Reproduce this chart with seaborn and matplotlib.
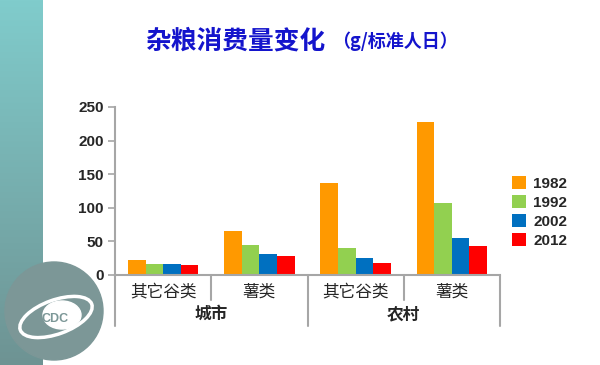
import numpy as np
import pandas as pd
import seaborn as sns
import matplotlib.pyplot as plt
from matplotlib.patches import Circle, Ellipse
import matplotlib.transforms as mtransforms

# data (g per standard person per day)
regions = ['城市', '城市', '农村', '农村']
foods = ['其它谷类', '薯类', '其它谷类', '薯类']
years = ['1982', '1992', '2002', '2012']
v1982 = [23, 65.5, 136.5, 228]
v1992 = [16.5, 45, 40, 107]
v2002 = [16.5, 31, 25.5, 55.5]
v2012 = [15, 28, 17.5, 43]
colors = ['#FF9900', '#92D050', '#0070C0', '#FF0000']

# long format table for seaborn
keys = [r + '|' + f for r, f in zip(regions, foods)]
rows = []
for yr, vals in zip(years, [v1982, v1992, v2002, v2012]):
    for k, v in zip(keys, vals):
        rows.append({'key': k, 'year': yr, 'value': v})
df = pd.DataFrame(rows)

sns.set_style('white')
plt.rcParams['font.family'] = ['Noto Sans CJK SC', 'DejaVu Sans']

fig = plt.figure(figsize=(6, 3.65), dpi=100)

# teal band on the left side of the slide
band = fig.add_axes([0, 0, 43 / 600, 1])
grad = np.linspace(0, 1, 256).reshape(-1, 1)
top = np.array([0x80, 0xCC, 0xCC]) / 255
bot = np.array([0x6E, 0x93, 0x93]) / 255
img = top + (bot - top) * grad[..., None]
band.imshow(img, aspect='auto', extent=[0, 1, 0, 1])
band.axis('off')

# CDC logo (rough sketch)
logo = fig.add_axes([0, 0, 130 / 600, 130 / 365])
logo.set_xlim(0, 130)
logo.set_ylim(0, 130)
logo.add_patch(Circle((54, 54), 49, color='#7C9797', zorder=1))
logo.add_patch(Ellipse((56, 48), 76, 34, angle=20, fill=False, ec='white', lw=2.5, zorder=2))
logo.add_patch(Ellipse((62, 50), 38, 28, color='white', zorder=2))
logo.text(55, 46, 'CDC', color='#7C9797', fontsize=9, fontweight='bold',
          family='Liberation Sans', ha='center', va='center', zorder=3)
logo.axis('off')

# title
fig.text(0.242, 0.888, '杂粮消费量变化', color='#1414CC', fontsize=18.5,
         fontweight='bold', ha='left', va='center')
fig.text(0.553, 0.888, '（g/标准人日）', color='#1414CC', fontsize=13,
         fontweight='bold', ha='left', va='center')

ax = fig.add_axes([115 / 600, 1 - 275 / 365, 385 / 600, 168 / 365])
sns.barplot(data=df, x='key', y='value', hue='year', order=keys, hue_order=years,
            palette=colors, width=0.73, gap=0, saturation=1, ax=ax,
            edgecolor='none', legend=True)

ax.set_xlim(-0.5, 3.5)
ax.set_ylim(0, 250)
ax.set_yticks(range(0, 251, 50))
ax.set_xticks([])
ax.set_xlabel('')
ax.set_ylabel('')
for lab in ax.get_yticklabels():
    lab.set_family('Liberation Sans')
    lab.set_fontweight('bold')
    lab.set_fontsize(11)
ax.tick_params(axis='y', left=True, length=5, width=1.2, color='#A6A6A6', pad=3)
for s in ['top', 'right']:
    ax.spines[s].set_visible(False)
for s in ['left', 'bottom']:
    ax.spines[s].set_color('#A6A6A6')
    ax.spines[s].set_linewidth(1.5)

# two-level category axis
tr = mtransforms.blended_transform_factory(ax.transData, ax.transAxes)
for x in [0.5, 2.5]:
    ax.plot([x, x], [0, -0.149], transform=tr, color='#A6A6A6', lw=1.5, clip_on=False)
for x in [-0.5, 1.5, 3.5]:
    ax.plot([x, x], [0, -0.304], transform=tr, color='#A6A6A6', lw=1.5, clip_on=False)
for i, f in enumerate(foods):
    ax.text(i, -0.101, f, transform=tr, ha='center', va='center', fontsize=12)
for x, r in [(0.5, '城市'), (2.5, '农村')]:
    ax.text(x, -0.232, r, transform=tr, ha='center', va='center', fontsize=12,
            fontweight='bold')

# legend on the right
handles, labels = ax.get_legend_handles_labels()
ax.get_legend().remove()
leg = fig.legend(handles, labels, loc='center left', bbox_to_anchor=(498 / 600, 1 - 212 / 365),
                 frameon=False, handlelength=0.9, handleheight=0.9, handletextpad=0.5,
                 labelspacing=0.3, prop={'family': 'Liberation Sans', 'weight': 'bold', 'size': 11})

fig.savefig('out.png', dpi=100)
